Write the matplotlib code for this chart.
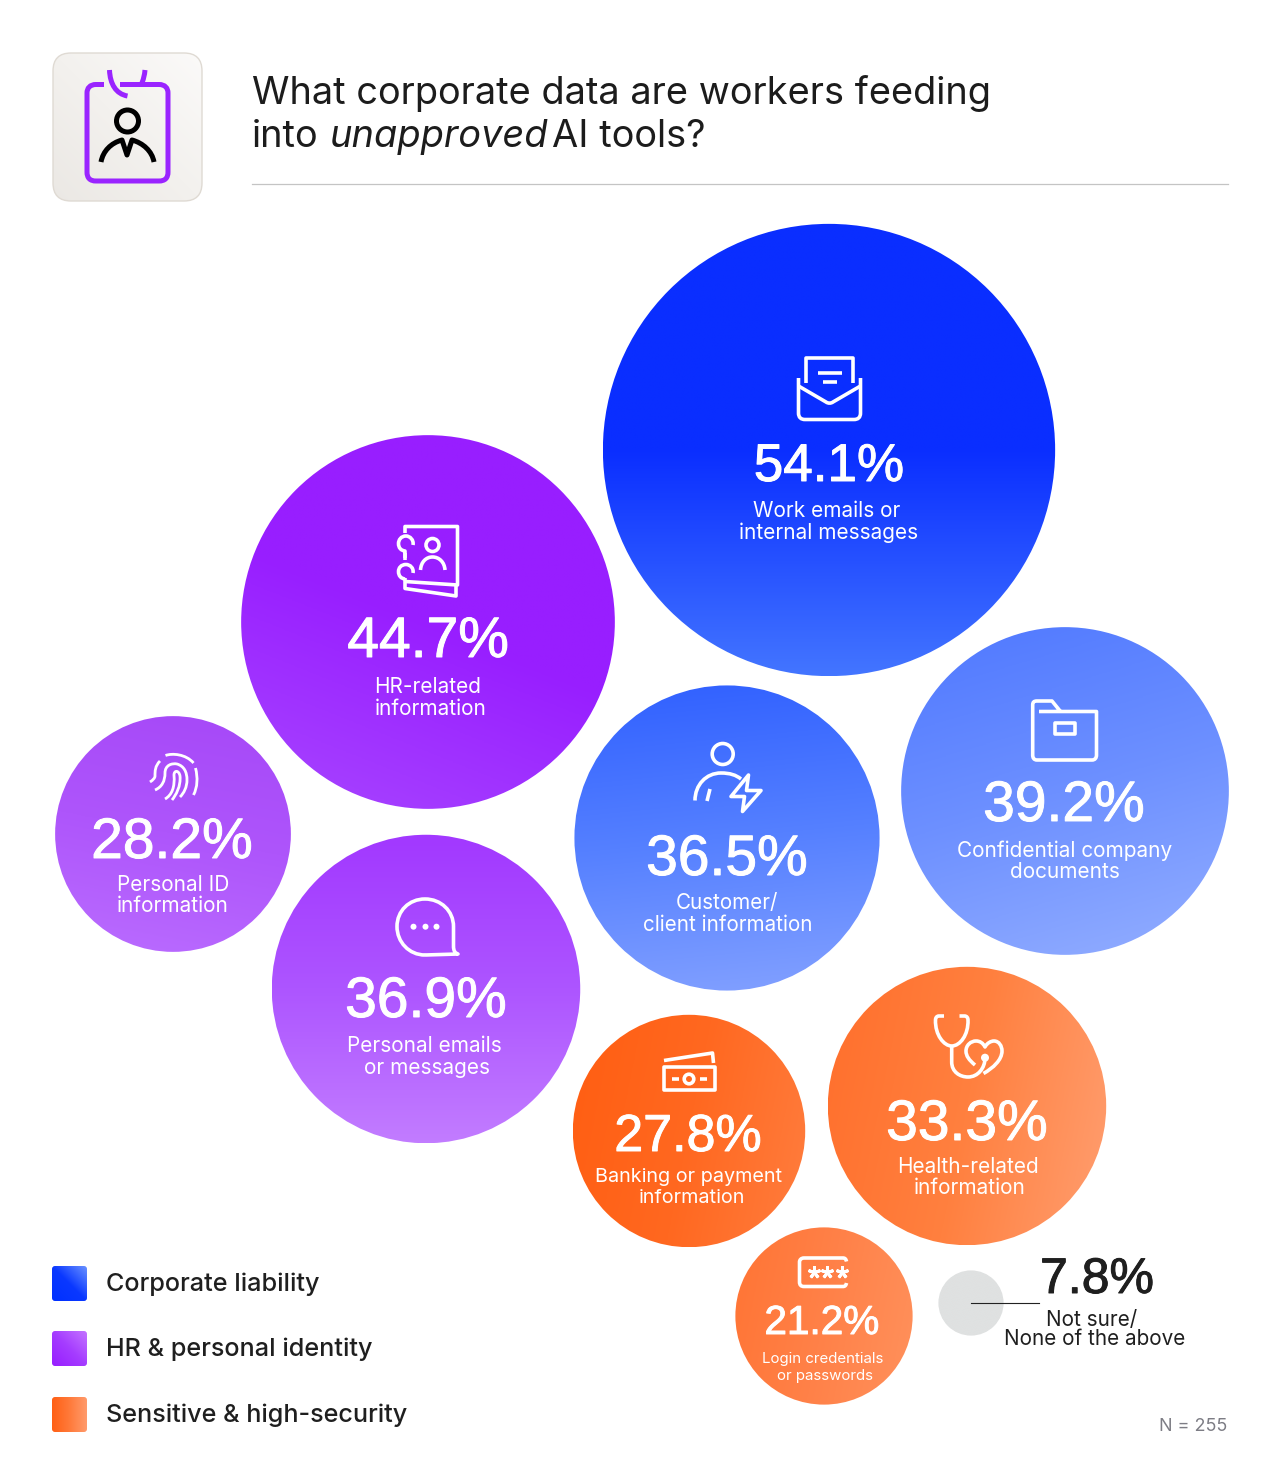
# bubble chart: corporate data fed into unapproved AI tools
import numpy as np
import matplotlib
matplotlib.use("Agg")
import matplotlib.pyplot as plt
import matplotlib.patheffects as pe
from matplotlib.colors import LinearSegmentedColormap
from matplotlib.patches import Circle, FancyBboxPatch
from matplotlib.path import Path
from matplotlib.patches import PathPatch

plt.rcParams["font.family"] = ["Inter", "DejaVu Sans"]

# data
values = [54.1, 44.7, 39.2, 36.9, 36.5, 33.3, 28.2, 27.8, 21.2, 7.8]
labels = [
    ["Work emails or", "internal messages"],
    ["HR-related", "information"],
    ["Confidential company", "documents"],
    ["Personal emails", "or messages"],
    ["Customer/", "client information"],
    ["Health-related", "information"],
    ["Personal ID", "information"],
    ["Banking or payment", "information"],
    ["Login credentials", "or passwords"],
    ["Not sure/", "None of the above"],
]
legend_labels = ["Corporate liability", "HR & personal identity", "Sensitive & high-security"]
title_1 = "What corporate data are workers feeding"
note = "N = 255"

# layout, in image pixels
W, H = 1280, 1483
PX = 0.72  # points per pixel at dpi 100
R_PER_PCT = 4.18
centers = [(829, 450), (428, 622), (1065, 791), (426, 989), (727, 838),
           (967, 1106), (173, 834), (689, 1131), (824, 1316), (971, 1303)]
pct_pos = [(829, 481), (428, 657), (1064, 821), (426, 1017), (727, 875),
           (967, 1140), (172, 858), (688, 1151), (822, 1334), (1097, 1293)]
pct_px = [53, 57, 57, 57, 57, 57, 57, 52, 40.5, 50]
label_pos = [
    [(827, 517), (829, 539)], [(428, 693), (431, 715)], [(1065, 857), (1065, 878)],
    [(424, 1052), (427, 1074)], [(727, 909), (728, 931)], [(968, 1173), (970, 1194)],
    [(173, 891), (173, 912)], [(689, 1182), (692, 1203)], [(823, 1363), (825, 1380)],
    [(1092, 1326), (1095, 1345)],
]
label_px = [20.8, 20.8, 20.8, 20.8, 20.6, 20.8, 20.8, 19.8, 15, 20.7]

# gradient: direction, then colour stops
grads = [
    ((0, 1), ["#0a2eff", "#0a2eff", "#4375ff"]),
    ((-0.4, 1), ["#981eff", "#981eff", "#a846ff"]),
    ((0.3, 1), ["#4f78ff", "#6d90ff", "#93aeff"]),
    ((0, 1), ["#a238ff", "#ad55ff", "#c27cff"]),
    ((0.1, 1), ["#3060ff", "#5580ff", "#83a1ff"]),
    ((1, 0.2), ["#ff6f2c", "#ff803f", "#ff9e70"]),
    ((-0.2, 1), ["#a648f8", "#ae55fb", "#ba6cff"]),
    ((1, 0.2), ["#ff5e12", "#ff6820", "#ff7d3e"]),
    ((1, 0.2), ["#ff7434", "#ff8148", "#ff915c"]),
    ((0, 1), ["#dfe1e1", "#dfe1e1", "#dfe1e1"]),
]

fig = plt.figure(figsize=(W / 100, H / 100), dpi=100, facecolor="white")
ax = fig.add_axes([0, 0, 1, 1])
ax.set_axis_off()


def fill_gradient(patch, box, direction, colors):
    # paints a linear gradient inside the patch
    x0, y0, x1, y1 = box
    n = 300
    xx, yy = np.meshgrid(np.linspace(-0.5, 0.5, n), np.linspace(-0.5, 0.5, n))
    dx, dy = direction
    t = xx * dx + yy * dy
    t = (t - t.min()) / (t.max() - t.min())
    cm = LinearSegmentedColormap.from_list("g", colors)
    ax.add_patch(patch)
    patch.set_facecolor("none")
    patch.set_edgecolor("none")
    im = ax.imshow(t, extent=(x0, x1, y1, y0), origin="upper", cmap=cm, vmin=0, vmax=1,
                   aspect="auto", interpolation="bilinear", zorder=1)
    im.set_clip_path(patch)


def svg(d, color="white", lw=3.6, fill="none", z=5):
    # tiny path reader, M L C Z with absolute coordinates
    verts, codes = [], []
    tok = d.split()
    i = 0
    while i < len(tok):
        c = tok[i]
        i += 1
        if c == "Z":
            verts.append(verts[-1])
            codes.append(Path.CLOSEPOLY)
            continue
        n = 3 if c == "C" else 1
        code = {"M": Path.MOVETO, "L": Path.LINETO, "C": Path.CURVE4}[c]
        for _ in range(n):
            verts.append((float(tok[i]), float(tok[i + 1])))
            codes.append(code)
            i += 2
    ax.add_patch(PathPatch(Path(verts, codes), facecolor=fill, edgecolor=color, lw=lw * PX,
                           capstyle="butt", joinstyle="round", zorder=z))


def ring(x, y, r, color="white", lw=3.6, z=5):
    ax.add_patch(Circle((x, y), r, facecolor="none", edgecolor=color, lw=lw * PX, zorder=z))


def dot(x, y, r, color="white", z=5):
    ax.add_patch(Circle((x, y), r, facecolor=color, edgecolor="none", zorder=z))


# header tile
tile = FancyBboxPatch((53, 53), 149, 148, boxstyle="round,pad=0,rounding_size=18")
fill_gradient(tile, (53, 53, 202, 201), (-1, 1), ["#fbfaf9", "#f3f1ee", "#ebe8e4"])
ax.add_patch(FancyBboxPatch((53, 53), 149, 148, boxstyle="round,pad=0,rounding_size=18",
                            facecolor="none", edgecolor="#dfdad3", lw=1, zorder=2))
VIOLET = "#9a24ff"
svg("M 104 84.5 L 96 84.5 C 90 84.5 87 88 87 93 L 87 172 C 87 178 90 181 96 181 L 159 181 "
    "C 165 181 168 178 168 172 L 168 93 C 168 88 165 84.5 159 84.5 L 120 84.5", VIOLET, 5)
svg("M 109.5 70 C 110 84 116 94 127.5 96", VIOLET, 5)
svg("M 145 70 C 144.5 75 143.5 80 141 85", VIOLET, 5)
ring(127.5, 121, 11, "black", 5)
svg("M 101 162 C 103 151 111 143 122 140 L 127 155 L 132 140 C 143 143 152 151 154 162", "black", 5)

# title
TITLE_PX = 38
ax.text(252, 104, title_1, fontsize=TITLE_PX * PX, color="#1c1c1c", va="baseline", zorder=6)
ax.text(252, 147, "into", fontsize=TITLE_PX * PX, color="#1c1c1c", va="baseline", zorder=6)
ax.text(329, 147, "unapproved", fontsize=TITLE_PX * PX, color="#1c1c1c", style="italic", va="baseline", zorder=6)
ax.text(552, 147, "AI tools?", fontsize=TITLE_PX * PX, color="#1c1c1c", va="baseline", zorder=6)
ax.plot([252, 1228], [183.5, 183.5], color="#c4c4c4", lw=0.9, zorder=2)

# bubbles
for i, v in enumerate(values):
    r = v * R_PER_PCT
    cx, cy = centers[i]
    fill_gradient(Circle((cx, cy), r), (cx - r, cy - r, cx + r, cy + r), grads[i][0], grads[i][1])
    col = "#1f1f1f" if i == 9 else "white"
    t = ax.text(pct_pos[i][0], pct_pos[i][1], f"{v}%", fontsize=pct_px[i] * PX, color=col,
                family=["Liberation Sans"], ha="center", va="baseline", zorder=6)
    t.set_path_effects([pe.withStroke(linewidth=0.7, foreground=col)])
    for line, (lx, ly) in zip(labels[i], label_pos[i]):
        ax.text(lx, ly, line, fontsize=label_px[i] * PX, color=col, ha="center", va="baseline", zorder=6)

ax.plot([971, 1039], [1303, 1303], color="#222222", lw=0.8, zorder=6)
ax.text(1227, 1431, note, fontsize=18 * PX, color="#7d7d85", ha="right", va="baseline", zorder=6)

# envelope
svg("M 806 383 L 806 358 L 853 358 L 853 383")
svg("M 817.5 372.5 L 841.5 372.5")
svg("M 822.5 381.5 L 836.5 381.5")
svg("M 798.5 378 L 798.5 413 C 798.5 417.5 801 419.5 805 419.5 L 854 419.5 C 858 419.5 860.5 417.5 860.5 413 L 860.5 378")
svg("M 798.5 386 L 826 402 C 828 403.5 831 403.5 833 402 L 860.5 386")

# address book
svg("M 405 533 L 405 526.5 L 457.5 526.5 L 457.5 585 L 405 581.5")
svg("M 405 558 L 405 553")
svg("M 405 578 L 405 588.5 L 456 596 L 456 586")
svg("M 413 545 C 414 540 410 536 406 536 C 401 536 398.5 540 398.5 543.5 C 398.5 548 401 550.5 405 551 L 405 560")
svg("M 413 573 C 414 568 410 564.5 406 564.5 C 401 564.5 398.5 568 398.5 571.5 C 398.5 576 401 578.5 405 579")
ring(432.5, 545, 6.5)
svg("M 420.5 570 C 421 562 426 557 432.5 557 C 439 557 444.5 562 445 570")

# fingerprint
fp = 2.8
svg("M 165.5 755.5 C 172 753 186 754 193.5 763", lw=fp)
svg("M 160 761 C 155 766 155 771 155 776 C 155 778 153 780 150 782", lw=fp)
svg("M 195.5 768 C 198 778 197.5 787 193.5 795", lw=fp)
svg("M 155 790 C 162 787 165 781 165 773 C 165 765 172 763 177 764 C 184 766 187 772 187 780", lw=fp)
svg("M 187 780 C 187 787 184 793 180 797", lw=fp)
svg("M 165 799 C 172 795 175 787 174 775 C 174 770 179 770 180 776 C 181 786 176 795 172 800", lw=fp)

# person with bolt
ring(722.7, 754, 10.5)
svg("M 695 800.5 C 695 785 706 773 721 773 C 730 773 736 775 741 779")
svg("M 710 789 L 707 801")
svg("M 748.5 775 L 731 796.5 L 744.5 796.5 L 742.5 811.5 L 761 790.5 L 746.5 790.5 Z")

# folder
svg("M 1039 711.5 L 1096.5 711.5 L 1096.5 755 C 1096.5 758 1095 760 1092 760 L 1037 760 "
    "C 1034 760 1032.7 758 1032.7 755 L 1032.7 705 C 1032.7 702 1034 701 1037 701 "
    "L 1052 701 L 1060.5 711.5")
svg("M 1054.5 723 L 1075 723 L 1075 734 L 1054.5 734 Z")

# speech bubble
svg("M 425 955 C 409 955 397 942 397 926.5 C 397 911 409 899 425 899 C 441 899 453.5 911 453.5 926.5 "
    "L 453.5 946 C 453.5 951 455 953 458 954 L 425 955")
for dx in (413.5, 425.5, 436.5):
    dot(dx, 926.7, 3)

# banknote
svg("M 664 1067 L 715 1067 L 715 1090 L 664 1090 Z")
svg("M 664 1060.5 L 712.5 1053 L 713.5 1063")
ring(689, 1079, 4.8)
svg("M 671.5 1079 L 678.5 1079")
svg("M 700 1079 L 707 1079")

# stethoscope and heart
svg("M 944 1016 L 939 1016 C 936.5 1016 935.5 1018 935.5 1020 C 935 1035 944 1046 951.7 1046 "
    "C 960 1046 968.5 1035 968 1020 C 968 1018 967 1016 964.5 1016 L 959.5 1016")
svg("M 951.7 1046 L 951.7 1062 C 951.7 1072 960 1077 968 1077 C 978 1077 985 1068 985 1058")
dot(985, 1057.7, 4)
svg("M 975 1065 C 969 1060 966 1056 966 1051 C 966 1045 971 1041 976 1041 C 980 1041 983 1043 985 1047 "
    "C 987 1043 991 1041 994 1041 C 999 1041 1002 1046 1002 1051 C 1002 1060 993 1068 983.5 1073.5")

# password box
svg("M 846.5 1261.5 C 846 1259 845 1258 843 1258 L 804 1258 C 801 1258 799.5 1260 799.5 1262 L 799.5 1282 "
    "C 799.5 1285 801 1286.5 804 1286.5 L 843 1286.5 C 845 1286.5 846 1285.5 846.5 1283")
ax.plot([813.5, 827, 842], [1272, 1272, 1272], ls="none", marker=(5, 2), ms=9, mew=2.1, color="white", zorder=6)

# legend
legend_y = [1266, 1331, 1397]
legend_grads = [
    ((1, -1), ["#0030ff", "#0a38ff", "#6a92ff"]),
    ((1, -1), ["#971dff", "#a53cff", "#c474ff"]),
    ((1, 0), ["#ff5f14", "#ff7a3a", "#ff9b6c"]),
]
for ly, lab, g in zip(legend_y, legend_labels, legend_grads):
    sq = FancyBboxPatch((52, ly), 35, 35, boxstyle="round,pad=0,rounding_size=3")
    fill_gradient(sq, (52, ly, 87, ly + 35), g[0], g[1])
    ax.text(106, ly + 25, lab, fontsize=25.2 * PX, color="#1f1f1f", weight="medium", va="baseline", zorder=6)

ax.set_xlim(0, W)
ax.set_ylim(H, 0)
fig.savefig("out.png", dpi=100, facecolor="white")
